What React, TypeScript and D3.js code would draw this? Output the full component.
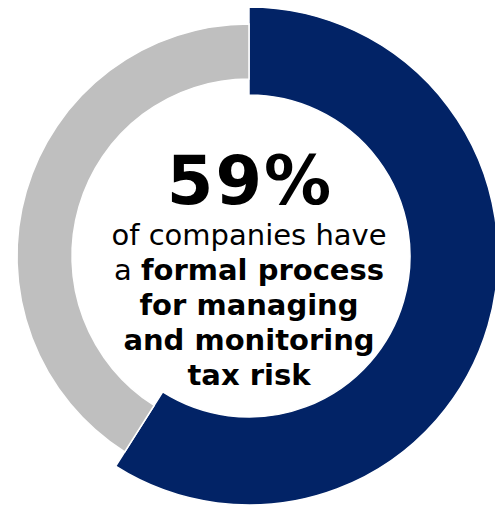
import React from "react";
import * as d3 from "d3";

const categories = ["Formal process", "No formal process"];
const values = [59, 41];
const colors = ["#022366", "#BFBFBF"];
const headline = "59%";
const lines: { text: string; bold: boolean }[][] = [
  [{ text: "of companies have", bold: false }],
  [{ text: "a ", bold: false }, { text: "formal process", bold: true }],
  [{ text: "for managing", bold: true }],
  [{ text: "and monitoring", bold: true }],
  [{ text: "tax risk", bold: true }],
];

const W = 495;
const H = 510;
const cx = 249;
const cy = 256;
const radii = [
  { inner: 161, outer: 249 },
  { inner: 177, outer: 232 },
];

export default function App() {
  const pie = d3
    .pie<number>()
    .sort(null)
    .value((d) => d)
    .startAngle(0)
    .endAngle(2 * Math.PI);
  const arcs = pie(values);
  const font = "'DejaVu Sans', Verdana, sans-serif";
  return (
    <svg
      width={W}
      height={H}
      style={{ position: "absolute", left: 0, top: 0, background: "#fff" }}
    >
      <g transform={`translate(${cx},${cy})`}>
        {arcs.map((a, i) => {
          const gen = d3
            .arc<d3.PieArcDatum<number>>()
            .innerRadius(radii[i].inner)
            .outerRadius(radii[i].outer);
          return (
            <path
              key={categories[i]}
              d={gen(a) || ""}
              fill={colors[i]}
              stroke="#fff"
              strokeWidth={1.5}
            />
          );
        })}
        <text
          x={1}
          y={-52}
          textAnchor="middle"
          fontFamily={font}
          fontWeight="bold"
          fontSize={67}
          letterSpacing={2}
          fill="#000"
        >
          {headline}
        </text>
        {lines.map((ln, i) => (
          <text
            key={i}
            x={0}
            y={-11 + i * 35}
            textAnchor="middle"
            fontFamily={font}
            fontSize={29}
            fill="#000"
          >
            {ln.map((s, j) => (
              <tspan key={j} fontWeight={s.bold ? "bold" : "normal"}>
                {s.text}
              </tspan>
            ))}
          </text>
        ))}
      </g>
    </svg>
  );
}
